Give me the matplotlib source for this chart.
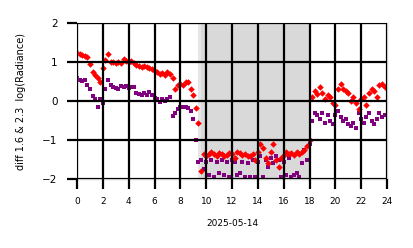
import numpy as np
import matplotlib
matplotlib.use("Agg")
import matplotlib.pyplot as plt

# sampling every 12 minutes over the day (hours)
hours = np.arange(0, 24, 0.2)

red_vals = [1.23, 1.21, 1.18, 1.15, 1.12, 0.95, 0.75, 0.68, 0.60, 0.50,
            0.85, 1.05, 1.20, 1.00, 1.00, 0.98, 1.00, 0.97, 1.08, 1.02,
            1.00, 1.02, 0.98, 0.93, 0.90, 0.88, 0.90, 0.88, 0.85, 0.82,
            0.78, 0.75, 0.70, 0.72, 0.68, 0.75, 0.70, 0.60, 0.30, 0.40,
            0.45, 0.42, 0.50, 0.48, 0.30, 0.15, -0.18, -0.55, -1.80, -1.35,
            -1.40, -1.35, -1.30, -1.35, -1.40, -1.32, -1.35, -1.42, -1.38, -1.33,
            -1.36, -1.45, -1.30, -1.32, -1.38, -1.35, -1.40, -1.42, -1.35, -1.50,
            -1.30, -1.10, -1.20, -1.45, -1.60, -1.30, -1.10, -1.50, -1.70, -1.45,
            -1.38, -1.30, -1.35, -1.32, -1.38, -1.30, -1.35, -1.30, -1.25, -1.15,
            -1.00, 0.10, 0.25, 0.18, 0.35, 0.20, 0.05, 0.15, 0.10, -0.05,
            -0.10, 0.30, 0.45, 0.30, 0.25, 0.20, 0.00, 0.10, -0.05, -0.20,
            0.05, 0.10, -0.10, 0.20, 0.30, 0.25, 0.10, 0.42, 0.45, 0.35]

purple_vals = [0.60, 0.55, 0.52, 0.55, 0.40, 0.30, 0.12, 0.05, -0.15, 0.05,
               -0.05, 0.30, 0.55, 0.40, 0.35, 0.33, 0.30, 0.38, 0.35, 0.38,
               0.33, 0.35, 0.35, 0.20, 0.18, 0.15, 0.20, 0.15, 0.22, 0.15,
               0.08, 0.05, -0.02, 0.05, 0.00, 0.05, 0.10, -0.38, -0.30, -0.20,
               -0.15, -0.15, -0.15, -0.18, -0.25, -0.45, -1.00, -1.55, -1.50, -1.75,
               -1.55, -1.90, -1.50, -1.95, -1.55, -1.85, -1.50, -1.90, -1.55, -1.95,
               -1.50, -1.55, -1.90, -1.85, -1.55, -1.95, -1.60, -1.95, -1.50, -1.95,
               -1.55, -1.40, -1.95, -1.50, -1.70, -1.45, -1.60, -1.40, -1.50, -1.95,
               -1.55, -1.90, -1.45, -1.95, -1.90, -1.85, -1.95, -1.60, -1.25, -1.50,
               -1.10, -0.50, -0.30, -0.35, -0.45, -0.30, -0.55, -0.35, -0.50, -0.60,
               -0.35, -0.25, -0.40, -0.50, -0.45, -0.60, -0.65, -0.55, -0.70, -0.30,
               -0.45, -0.55, -0.40, -0.30, -0.50, -0.60, -0.45, -0.30, -0.40, -0.35]

twilight_start, night_start, night_end = 9.35, 9.6, 18.0
x_ticks = [0, 2, 4, 6, 8, 10, 12, 14, 16, 18, 20, 22, 24]
y_ticks = [-2, -1, 0, 1, 2]

fig = plt.figure(figsize=(4.14, 2.48), dpi=100)
ax = fig.add_axes([0.186, 0.278, 0.749, 0.629])

ax.axvspan(twilight_start, night_end, color="#e6e6e6", lw=0, zorder=0.5)
ax.axvspan(night_start, night_end, color="#d9d9d9", lw=0, zorder=0.6)

ax.scatter(hours, purple_vals, marker="s", s=6, color="#800080", lw=0, zorder=1)
ax.scatter(hours, red_vals, marker="D", s=11, color="#ff0000", lw=0, zorder=1.1)

ax.set_xlim(0, 24)
ax.set_ylim(-2, 2)
ax.set_xticks(x_ticks)
ax.set_yticks(y_ticks)
ax.grid(True, color="black", lw=1.6, zorder=1.5)
ax.set_axisbelow(False)
ax.tick_params(axis="both", length=7, width=1.6, color="black", labelsize=7.5)
ax.tick_params(axis="y", pad=7)
ax.tick_params(axis="x", labelsize=6.5, pad=6)
for s in ax.spines.values():
    s.set_color("#c8c8c8")
    s.set_linewidth(1.0)

ax.set_xlabel("2025-05-14", fontsize=6.5, labelpad=9)
ax.set_ylabel("diff 1.6 & 2.3  log(Radiance)", fontsize=7, labelpad=12)

fig.savefig("out.png", dpi=100)
